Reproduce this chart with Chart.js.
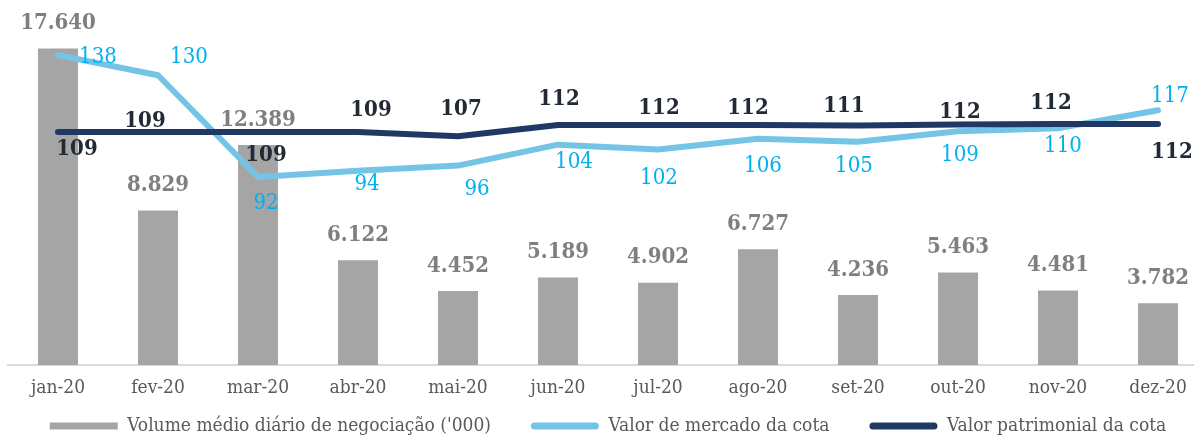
<!DOCTYPE html>
<html><head><meta charset="utf-8">
<script src="https://cdn.jsdelivr.net/npm/chart.js@4"></script>
<style>
html,body{margin:0;padding:0;background:#fff;overflow:hidden;width:1194px;height:436px}
#wrap{position:relative;width:1216px;height:436px}
</style></head><body>
<div id="wrap"><canvas id="c" width="1216" height="436"></canvas></div>
<script>
const categories = ['jan-20','fev-20','mar-20','abr-20','mai-20','jun-20','jul-20','ago-20','set-20','out-20','nov-20','dez-20'];
const volume = [17640, 8829, 12389, 6122, 4452, 5189, 4902, 6727, 4236, 5463, 4481, 3782];
const marketValue = [138, 130.4, 92, 94.4, 96.3, 104.2, 102.4, 106.4, 105.3, 109.3, 110.4, 117.2];
const bookValue = [109, 109, 109, 109, 107.4, 111.6, 111.6, 111.6, 111.4, 111.8, 112, 112];
const seriesNames = ["Volume médio diário de negociação ('000)", 'Valor de mercado da cota', 'Valor patrimonial da cota'];

// label placement relative to each point (dx, dy)
const marketLabelOffsets = [[40,2],[31,-18],[8,26],[9,14],[19,24],[16,18],[1,29],[5,27],[-4,25],[2,24],[5,18],[12,-14]];
const bookLabelOffsets = [[19,17],[-13,-11],[8,23],[13,-22],[3,-27],[1,-26],[1,-17],[-10,-17],[-14,-19],[2,-12],[-7,-21],[14,28]];

const FONT = "'DejaVu Serif Condensed', 'DejaVu Serif', serif";

function fmtThousands(v){
  const k = Math.floor(v/1000), r = v % 1000;
  return k > 0 ? k + '.' + String(r).padStart(3,'0') : String(r);
}

const valueLabels = {
  id: 'valueLabels',
  afterDatasetsDraw(chart, args, opts) {
    const ctx = chart.ctx;
    ctx.save();
    ctx.textAlign = 'center';
    ctx.textBaseline = 'middle';
    chart.data.datasets.forEach((ds, di) => {
      const st = opts.series[di];
      if (!st) return;
      const meta = chart.getDatasetMeta(di);
      ctx.font = st.font;
      ctx.fillStyle = st.color;
      meta.data.forEach((el, i) => {
        const off = st.offsets ? st.offsets[i] : [0, st.dy];
        ctx.fillText(st.format(ds.data[i]), el.x + off[0], el.y + off[1]);
      });
    });
    ctx.restore();
  }
};

new Chart(document.getElementById('c'), {
  data: {
    labels: categories,
    datasets: [
      { type: 'bar', label: seriesNames[0], data: volume, backgroundColor: '#a5a5a5', borderWidth: 0,
        barPercentage: 0.4, categoryPercentage: 1, yAxisID: 'y', order: 3, clip: 0 },
      { type: 'line', label: seriesNames[1], data: marketValue, borderColor: '#74c5e5', backgroundColor: '#74c5e5',
        borderWidth: 6, pointRadius: 0, tension: 0, borderCapStyle: 'round', borderJoinStyle: 'round',
        yAxisID: 'y2', order: 2, clip: false },
      { type: 'line', label: seriesNames[2], data: bookValue, borderColor: '#203864', backgroundColor: '#203864',
        borderWidth: 6, pointRadius: 0, tension: 0, borderCapStyle: 'round', borderJoinStyle: 'round',
        yAxisID: 'y2', order: 1, clip: false }
    ]
  },
  options: {
    responsive: false,
    animation: false,
    layout: { padding: { top: 10, left: 8, right: 8, bottom: 0 } },
    scales: {
      x: {
        grid: { display: false, drawTicks: false },
        border: { display: true, color: '#d9d9d9', width: 2 },
        ticks: { color: '#595959', font: { family: FONT, size: 19 }, padding: -34, mirror: true, maxRotation: 0, autoSkip: false },
        afterFit(axis) { axis.height = 11.5; }
      },
      y: { display: false, min: 430, max: 19730 },
      y2: { display: false, min: 21.06, max: 155.02, position: 'right' }
    },
    plugins: {
      tooltip: { enabled: false },
      legend: {
        position: 'bottom',
        maxHeight: 59.5,
        labels: {
          boxWidth: 68, boxHeight: 7, padding: 40, useBorderRadius: true,
          color: '#595959', font: { family: FONT, size: 19 },
          generateLabels(chart) {
            const items = Chart.defaults.plugins.legend.labels.generateLabels(chart);
            items.forEach(it => {
              const ds = chart.data.datasets[it.datasetIndex];
              const col = ds.type === 'line' ? ds.borderColor : ds.backgroundColor;
              it.fillStyle = col; it.strokeStyle = col; it.lineWidth = 0;
              it.borderRadius = ds.type === 'line' ? 3.5 : 0;
              it.fontColor = '#595959';
            });
            return items.sort((a, b) => a.datasetIndex - b.datasetIndex);
          }
        }
      },
      valueLabels: {
        series: [
          { font: 'bold 22px ' + FONT, color: '#7f7f7f', dy: -25, format: fmtThousands },
          { font: '22px ' + FONT, color: '#00b0f0', offsets: marketLabelOffsets, format: v => String(Math.round(v)) },
          { font: 'bold 22px ' + FONT, color: '#222a35', offsets: bookLabelOffsets, format: v => String(Math.round(v)) }
        ]
      }
    }
  },
  plugins: [valueLabels]
});
</script>
</body></html>
